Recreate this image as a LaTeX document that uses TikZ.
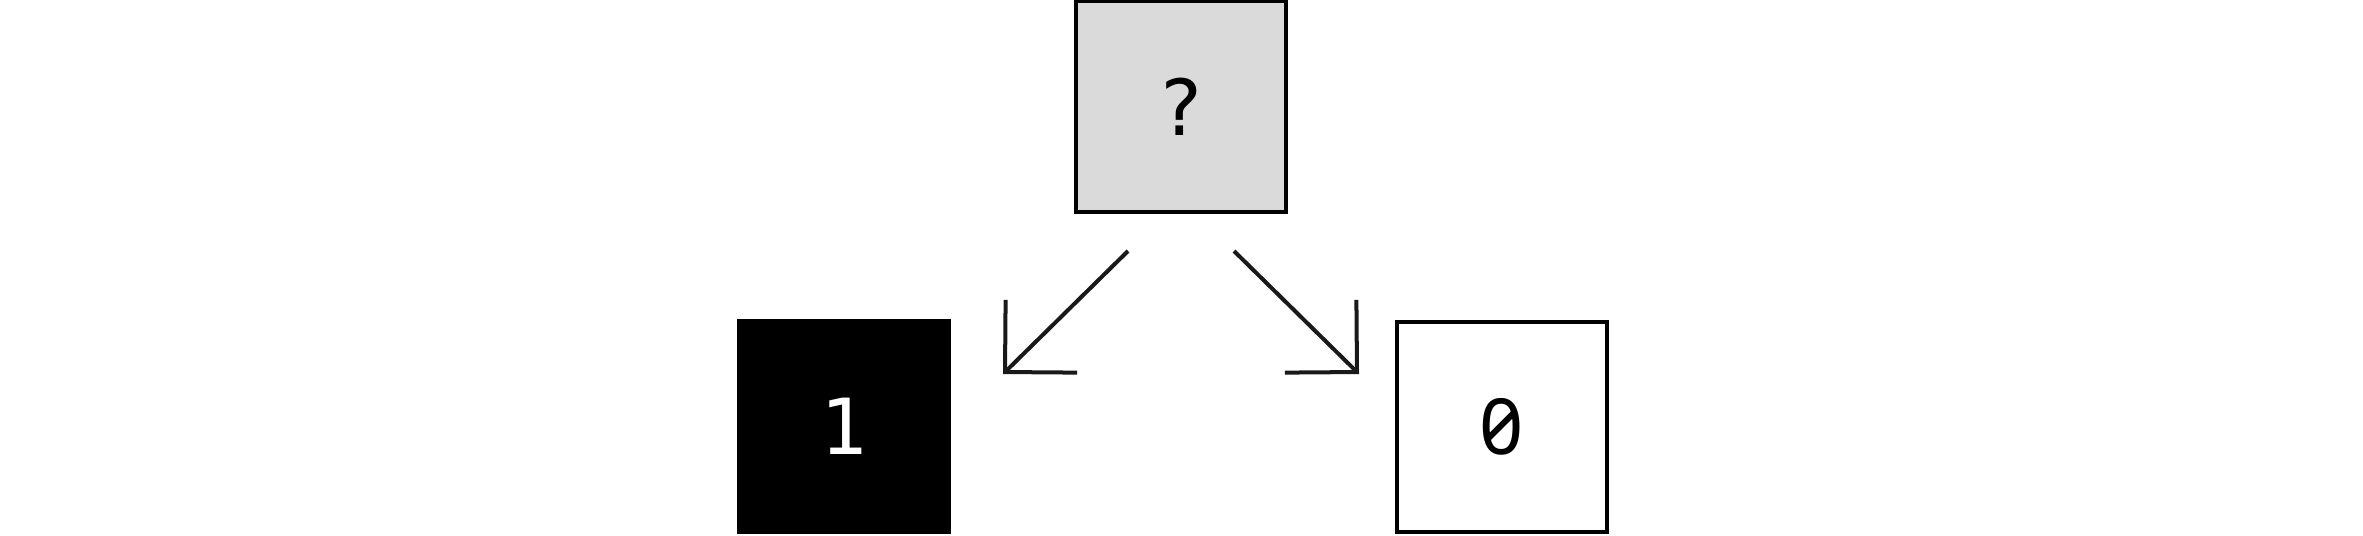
\documentclass[tikz,border=0pt]{standalone}
\usepackage{fontspec}
\newfontfamily\boxfont{DejaVu Sans Mono}
\newfontfamily\zerofont[RawFeature=+zero]{Noto Sans}
\usetikzlibrary{arrows.meta}
\definecolor{qgray}{HTML}{D9DAD9}
\begin{document}
\begin{tikzpicture}[x=0.01cm,y=-0.01cm,
  cell/.style={draw=black,line width=0.04cm,minimum width=2.1cm,minimum height=2.1cm,inner sep=0pt,font=\boxfont\fontsize{22}{26}\selectfont},
  link/.style={line width=0.04cm,draw={black!90},-{Straight Barb[length=0.51cm,width=1.02cm,line width=0.04cm,line join=miter]}}]
\useasboundingbox (0,0) rectangle (2363,535);
\node[cell,fill=qgray] (q) at (1181,106.5) {?};
\node[cell,fill=black,text=white] (one) at (844,426.5) {1};
\node[cell,fill=white,font=\zerofont\fontsize{22}{26}\selectfont] (zero) at (1502,427) {0};
\coordinate (ls) at (1128,251);
\coordinate (le) at (1003,374);
\coordinate (rs) at (1234,251);
\coordinate (re) at (1359,374);
\draw[link] (ls) -- (le);
\draw[link] (rs) -- (re);
\end{tikzpicture}
\end{document}
